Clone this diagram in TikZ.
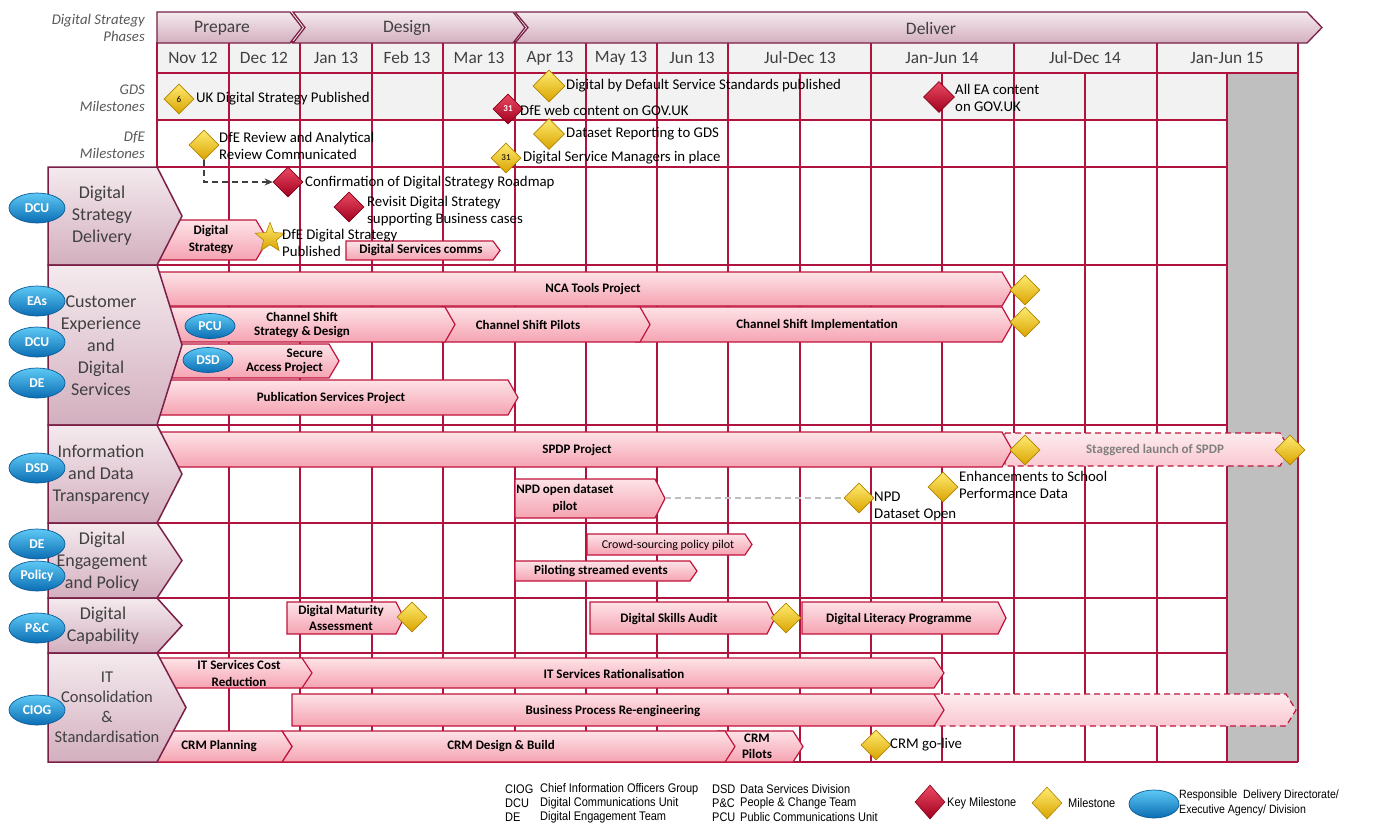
\documentclass[tikz,border=0pt]{standalone}
\usepackage{fontspec}
\setmainfont{Carlito}
\newfontfamily\narrowfont[FakeStretch=0.88]{Liberation Sans}
\usetikzlibrary{shapes.geometric,arrows.meta}
\definecolor{gridc}{HTML}{B0143E}
\definecolor{barb}{HTML}{C0143C}
\definecolor{barT}{HTML}{FDE3E7}
\definecolor{barB}{HTML}{F5A3B2}
\definecolor{bandb}{HTML}{7A2046}
\definecolor{bandT}{HTML}{F4EAEE}
\definecolor{bandB}{HTML}{D3AFBE}
\definecolor{monthc}{HTML}{F2F2F2}
\definecolor{grayc}{HTML}{BFBFBF}
\definecolor{ylT}{HTML}{FFEB70}
\definecolor{ylB}{HTML}{D9A300}
\definecolor{ylD}{HTML}{B08400}
\definecolor{rdT}{HTML}{EC4A63}
\definecolor{rdB}{HTML}{A0001E}
\definecolor{rdD}{HTML}{850018}
\definecolor{blT}{HTML}{5DC9F5}
\definecolor{blB}{HTML}{0B6DB3}
\definecolor{blD}{HTML}{0A5C98}
\definecolor{labc}{HTML}{404040}
\definecolor{italc}{HTML}{595959}
\newcommand\ganttbar[7]{%
  \pgfmathsetmacro\gbym{(#4+#5)/2}%
  \pgfmathsetmacro\gbxt{#3-#6}%
  \pgfmathsetmacro\gbxn{#2+#7}%
  \path[#1] (#2,#4) -- (\gbxt,#4) -- (#3,\gbym) -- (\gbxt,#5) -- (#2,#5) -- (\gbxn,\gbym) -- cycle;}
\newcommand\bandshape[3]{%
  \pgfmathsetmacro\bsym{(#1+#2)/2}%
  \path[bandlab] (48,#1) -- (157,#1) -- (#3,\bsym) -- (157,#2) -- (48,#2) -- cycle;}
\begin{document}
\begin{tikzpicture}[x=1pt,y=-1pt,
  gridline/.style={draw=gridc,line width=1.6pt},
  phase/.style={draw=bandb,line width=1.3pt,top color=bandT,bottom color=bandB},
  bandlab/.style={draw=bandb,line width=1.5pt,top color=bandT,bottom color=bandB},
  gbar/.style={draw=barb,line width=1.2pt,top color=barT,bottom color=barB},
  gbardash/.style={draw=barb,line width=1.2pt,dashed,dash pattern=on 6pt off 4pt,top color=barT!70!white,bottom color=barB!60!white},
  bartxt/.style={font=\bfseries\fontsize{13}{14}\selectfont,align=center,inner sep=0pt,text=black},
  mtxt/.style={anchor=west,align=left,font=\fontsize{14.8}{17}\selectfont,inner sep=0pt,text=black},
  bandtxt/.style={align=center,font=\fontsize{18}{22}\selectfont,text=labc,inner sep=0pt},
  phasetxt/.style={font=\fontsize{17.5}{20}\selectfont,text=labc,inner sep=0pt},
  monthtxt/.style={font=\fontsize{17.3}{20}\selectfont,text=labc,inner sep=0pt},
  rowtxt/.style={anchor=east,align=right,font=\itshape\fontsize{14.8}{17}\selectfont,text=italc,inner sep=0pt},
  ydia/.style={diamond,minimum width=30pt,minimum height=30pt,inner sep=0pt,top color=ylT,bottom color=ylB,draw=ylD,line width=0.6pt,font=\fontsize{9}{9}\selectfont},
  rdia/.style={diamond,minimum width=30pt,minimum height=30pt,inner sep=0pt,top color=rdT,bottom color=rdB,draw=rdD,line width=0.6pt,text=white,font=\bfseries\fontsize{9}{9}\selectfont},
  org/.style={ellipse,minimum width=56pt,minimum height=30pt,inner sep=0pt,top color=blT,bottom color=blB,draw=blD,line width=0.7pt,text=white,font=\bfseries\fontsize{13.5}{13.5}\selectfont},
  orgs/.style={org,minimum width=50pt,minimum height=25pt},
  legtxt/.style={anchor=west,inner sep=0pt,font=\narrowfont\fontsize{12.5}{14}\selectfont,text=black}
]
\useasboundingbox (0,0) rectangle (1373,823);
\fill[white] (0,0) rectangle (1373,823);

% backgrounds
\fill[monthc] (157,42) rectangle (1298,73);
\fill[monthc] (157,73) rectangle (1227,120);
\fill[grayc] (1227,73) rectangle (1298,762);

% grid
\foreach \x in {157,229,300,372,443,515,586,657,728,871,1014,1157,1298}
  \draw[gridline] (\x,42) -- (\x,762);
\foreach \x in {800,942,1085,1227}
  \draw[gridline] (\x,73) -- (\x,762);
\foreach \y in {42,73}
  \draw[gridline] (157,\y) -- (1298,\y);
\foreach \y in {120,167,265,425,523,598,653}
  \draw[gridline] (157,\y) -- (1227,\y);
\draw[gridline] (48,762) -- (1298,762);

% row titles
\node[rowtxt] (rt1) at (145,28) {Digital Strategy\\Phases};
\node[rowtxt] (rt2) at (145,98) {GDS\\Milestones};
\node[rowtxt] (rt3) at (145,145) {DfE\\Milestones};

% phases
\ganttbar{phase}{157}{302}{12}{43}{12}{0}
\ganttbar{phase}{293}{525}{12}{43}{12}{12}
\ganttbar{phase}{515}{1322}{12}{43}{15}{13}
\node[phasetxt] (ph1) at (222,28) {Prepare};
\node[phasetxt] (ph2) at (407,28) {Design};
\node[phasetxt] (ph3) at (931,28) {Deliver};

% months
\node[monthtxt] (m1) at (193,58) {Nov 12};
\node[monthtxt] (m2) at (264,58) {Dec 12};
\node[monthtxt] (m3) at (336,58) {Jan 13};
\node[monthtxt] (m4) at (407,58) {Feb 13};
\node[monthtxt] (m5) at (479,58) {Mar 13};
\node[monthtxt] (m6) at (550,58) {Apr 13};
\node[monthtxt] (m7) at (621,58) {May 13};
\node[monthtxt] (m8) at (692,58) {Jun 13};
\node[monthtxt] (m9) at (800,58) {Jul-Dec 13};
\node[monthtxt] (m10) at (942,58) {Jan-Jun 14};
\node[monthtxt] (m11) at (1085,58) {Jul-Dec 14};
\node[monthtxt] (m12) at (1227,58) {Jan-Jun 15};

% GDS milestones
\node[ydia] (g1) at (179,99) {6};
\node[mtxt] (g1t) at (196,99) {UK Digital Strategy Published};
\node[ydia,minimum width=32pt,minimum height=32pt] (g2) at (549,86) {};
\node[mtxt] (g2t) at (566,86) {Digital by Default Service Standards published};
\node[rdia] (g3) at (508,109) {31};
\node[mtxt] (g3t) at (520,110) {DfE web content on GOV.UK};
\node[rdia,minimum width=31pt,minimum height=31pt] (g4) at (939,97) {};
\node[mtxt] (g4t) at (955,98) {All EA content\\on GOV.UK};

% DfE milestones
\node[ydia] (d1) at (204,145) {};
\node[mtxt] (d1t) at (219,146) {DfE Review and Analytical\\Review Communicated};
\node[ydia,minimum width=31pt,minimum height=31pt] (d2) at (549,134) {};
\node[mtxt] (d2t) at (566,134) {Dataset Reporting to GDS};
\node[ydia] (d3) at (506,158) {31};
\node[mtxt] (d3t) at (523,158) {Digital Service Managers in place};

% ---------- Digital Strategy Delivery band ----------
\ganttbar{gbar}{157}{268}{220}{260}{12}{0}
\node[bartxt,font=\bfseries\fontsize{13}{17}\selectfont] (b1) at (211,240) {Digital\\Strategy};
\ganttbar{gbar}{346}{500}{241}{260}{7}{0}
\node[bartxt] (b2) at (421,250) {Digital Services comms};
\node[star,star points=5,star point ratio=2.3,minimum size=31pt,inner sep=0pt,top color=ylT,bottom color=ylB,draw=ylD,line width=0.6pt] (st1) at (270,238) {};
\node[mtxt] (st1t) at (282,243) {DfE Digital Strategy\\Published};
\node[rdia] (k1) at (288,182) {};
\node[mtxt] (k1t) at (305,183) {Confirmation of Digital Strategy Roadmap};
\node[rdia] (k2) at (349,207) {};
\node[mtxt] (k2t) at (367,211) {Revisit Digital Strategy\\supporting Business cases};
\draw[draw=labc,line width=1.3pt,dash pattern=on 6pt off 4pt,-{Stealth[length=8pt,width=7pt]}] (d1.south) |- (k1.west);

% ---------- Customer Experience band ----------
\ganttbar{gbar}{157}{1012}{272}{306}{10}{0}
\node[bartxt] (b3) at (593,289) {NCA Tools Project};
\ganttbar{gbar}{636}{1012}{307}{342}{10}{10}
\ganttbar{gbar}{442}{650}{307}{342}{10}{10}
\ganttbar{gbar}{157}{455}{307}{342}{10}{0}
\node[bartxt] (b4) at (302,325) {Channel Shift\\Strategy \& Design};
\node[bartxt] (b5) at (528,325) {Channel Shift Pilots};
\node[bartxt] (b6) at (817,325) {Channel Shift Implementation};
\ganttbar{gbar}{157}{339}{344}{378}{10}{0}
\node[bartxt,align=right,anchor=east] (b7) at (323,361) {Secure\\Access Project};
\ganttbar{gbar}{157}{518}{380}{415}{10}{0}
\node[bartxt] (b8) at (331,398) {Publication Services Project};
\node[ydia] (c1) at (1025,290) {};
\node[ydia] (c2) at (1025,322) {};
\node[orgs] (o1) at (210,326) {PCU};
\node[orgs] (o2) at (208,360) {DSD};

% ---------- Information band ----------
\ganttbar{gbardash}{1005}{1290}{433}{466}{10}{0}
\node[bartxt,text=gray] (b9) at (1155,450) {Staggered launch of SPDP};
\ganttbar{gbar}{157}{1012}{432}{467}{10}{0}
\node[bartxt] (b10) at (577,450) {SPDP Project};
\node[ydia] (i1) at (1025,450) {};
\node[ydia] (i2) at (1290,450) {};
\ganttbar{gbar}{515}{665}{479}{518}{10}{0}
\node[bartxt,font=\bfseries\fontsize{13}{17}\selectfont] (b11) at (565,498) {NPD open dataset\\pilot};
\coordinate (npdtip) at (665,498);
\node[ydia] (i3) at (859,498) {};
\node[mtxt] (i3t) at (874,506) {NPD\\Dataset Open};
\draw[draw=grayc,line width=1.6pt,dash pattern=on 6pt off 4pt] (npdtip) -- (i3.west);
\node[ydia] (i4) at (943,487) {};
\node[mtxt] (i4t) at (959,485) {Enhancements to School\\Performance Data};

% ---------- Digital Engagement band ----------
\ganttbar{gbar}{587}{752}{534}{555}{7}{0}
\node[bartxt,font=\fontsize{12}{13}\selectfont] (b12) at (668,545) {Crowd-sourcing policy pilot};
\ganttbar{gbar}{515}{697}{561}{581}{7}{0}
\node[bartxt] (b13) at (601,571) {Piloting streamed events};

% ---------- Digital Capability band ----------
\ganttbar{gbar}{287}{404}{602}{634}{8}{0}
\node[bartxt,font=\bfseries\fontsize{13}{16.5}\selectfont] (b14) at (341,618) {Digital Maturity\\Assessment};
\node[ydia] (p1) at (412,617) {};
\ganttbar{gbar}{590}{775}{602}{634}{8}{0}
\node[bartxt] (b15) at (669,619) {Digital Skills Audit};
\node[ydia] (p2) at (786,618) {};
\ganttbar{gbar}{802}{1006}{602}{634}{8}{0}
\node[bartxt] (b16) at (899,619) {Digital Literacy Programme};

% ---------- IT band ----------
\ganttbar{gbar}{300}{944}{658}{688}{10}{10}
\node[bartxt] (b17) at (614,674) {IT Services Rationalisation};
\ganttbar{gbar}{157}{312}{658}{688}{10}{0}
\node[bartxt,font=\bfseries\fontsize{13}{17}\selectfont] (b18) at (239,673) {IT Services Cost\\Reduction};
\ganttbar{gbardash}{934}{1296}{694}{726}{10}{0}
\ganttbar{gbar}{292}{944}{694}{726}{10}{0}
\node[bartxt] (b19) at (613,711) {Business Process Re-engineering};
\ganttbar{gbar}{718}{803}{731}{762}{10}{10}
\ganttbar{gbar}{282}{735}{731}{762}{10}{10}
\ganttbar{gbar}{157}{292}{731}{762}{10}{0}
\node[bartxt] (b20) at (219,746) {CRM Planning};
\node[bartxt] (b21) at (501,746) {CRM Design \& Build};
\node[bartxt,font=\bfseries\fontsize{13}{16}\selectfont] (b22) at (757,746) {CRM\\Pilots};
\node[ydia] (t1) at (876,745) {};
\node[mtxt] (t1t) at (890,745) {CRM go-live};

% ---------- band labels ----------
\bandshape{167}{265}{182}
\bandshape{265}{425}{182}
\bandshape{425}{523}{182}
\bandshape{523}{598}{182}
\bandshape{598}{653}{182}
\bandshape{653}{762}{186}
\node[bandtxt] (L1) at (102,216) {Digital\\Strategy\\Delivery};
\node[bandtxt] (L2) at (101,346) {Customer\\Experience\\and\\Digital\\Services};
\node[bandtxt] (L3) at (101,475) {Information\\and Data\\Transparency};
\node[bandtxt] (L4) at (102,562) {Digital\\Engagement\\and Policy};
\node[bandtxt] (L5) at (103,626) {Digital\\Capability};
\node[bandtxt,font=\fontsize{16.5}{20}\selectfont] (L6) at (107,707) {IT\\Consolidation\\\&\\Standardisation};

% ---------- responsible units ----------
\node[org] (u1) at (37,208) {DCU};
\node[org] (u2) at (37,301) {EAs};
\node[org] (u3) at (37,342) {DCU};
\node[org] (u4) at (37,383) {DE};
\node[org] (u5) at (37,468) {DSD};
\node[org] (u6) at (37,544) {DE};
\node[org] (u7) at (37,576) {Policy};
\node[org] (u8) at (37,628) {P\&C};
\node[org] (u9) at (37,710) {CIOG};

% ---------- legend ----------
\node[legtxt] (a1) at (505,789) {CIOG};
\node[legtxt] (a1t) at (540,789) {Chief Information Officers Group};
\node[legtxt] (a2) at (505,803) {DCU};
\node[legtxt] (a2t) at (540,803) {Digital Communications Unit};
\node[legtxt] (a3) at (505,817) {DE};
\node[legtxt] (a3t) at (540,817) {Digital Engagement Team};
\node[legtxt] (a4) at (712,789) {DSD};
\node[legtxt] (a4t) at (740,789) {Data Services Division};
\node[legtxt] (a5) at (712,803) {P\&C};
\node[legtxt] (a5t) at (740,803) {People \& Change Team};
\node[legtxt] (a6) at (712,817) {PCU};
\node[legtxt] (a6t) at (740,817) {Public Communications Unit};
\node[rdia,minimum width=30pt,minimum height=34pt] (lk) at (930,802) {};
\node[legtxt] (lkt) at (947,803) {Key Milestone};
\node[ydia,minimum width=30pt,minimum height=32pt] (lm) at (1047,803) {};
\node[legtxt] (lmt) at (1068,803) {Milestone};
\node[org,minimum width=50pt,minimum height=28pt] (lo) at (1154,804) {};
\node[legtxt,align=left,font=\narrowfont\fontsize{12}{15}\selectfont] (lot) at (1179,803) {Responsible\ \ Delivery Directorate/\\Executive Agency/ Division};
\end{tikzpicture}
\end{document}
